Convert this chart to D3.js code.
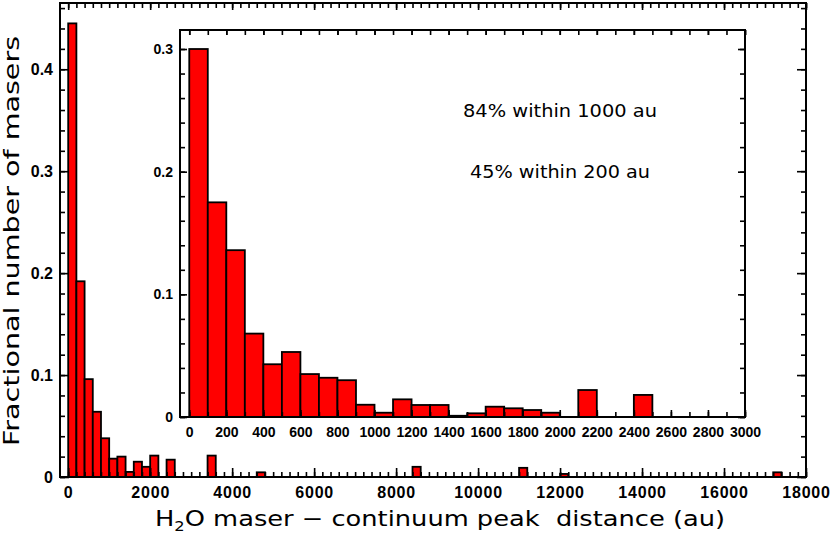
<!DOCTYPE html>
<html><head><meta charset="utf-8">
<script src="https://cdn.jsdelivr.net/npm/d3@7"></script>
<style>body{margin:0;background:#fff}svg{display:block}</style>
</head><body>
<svg id="c" width="830" height="536"></svg>
<script>
// ---- data ----
const mainBinWidth = 200;
const mainBinStart = [0,200,400,600,800,1000,1200,1400,1600,1800,2000,2400,3400,4600,8400,11000,12000,17200];
const mainFraction = [0.445,0.192,0.096,0.064,0.038,0.018,0.020,0.005,0.015,0.010,0.021,0.017,0.021,0.0046,0.010,0.009,0.003,0.0046];
const insetBinWidth = 100;
const insetBinStart = [0,100,200,300,400,500,600,700,800,900,1000,1100,1200,1300,1400,1500,1600,1700,1800,1900,2100,2400];
const insetFraction = [0.300,0.175,0.136,0.068,0.043,0.053,0.035,0.032,0.030,0.010,0.0035,0.0144,0.0098,0.0098,0.001,0.003,0.0084,0.0071,0.0057,0.0035,0.022,0.018];
const mainXTicks = [0,2000,4000,6000,8000,10000,12000,14000,16000,18000];
const mainYTicks = [0,0.1,0.2,0.3,0.4];
const insetXTicks = [0,200,400,600,800,1000,1200,1400,1600,1800,2000,2200,2400,2600,2800,3000];
const insetYTicks = [0,0.1,0.2,0.3];
const annotations = ["84% within 1000 au","45% within 200 au"];
const yTitle = "Fractional number of masers";

const svg = d3.select("#c");
const fmtY = d => d === 0 ? "0" : d3.format(".1f")(d);

// ---- main scales ----
const xM = d3.scaleLinear([-200, 18000], [60, 806]);
const yM = d3.scaleLinear([0, 0.465], [477, 3]);

function drawAxes(g, x, y, cfg) {
  const [x0, x1] = x.range(), [y0, y1] = y.range();
  const w = x1 - x0, h = y0 - y1;
  // minor
  g.append("g").attr("transform", `translate(0,${y0})`)
    .call(d3.axisBottom(x).tickValues(cfg.xMinor).tickSizeInner(-cfg.minLen).tickSizeOuter(0).tickFormat(""));
  g.append("g").attr("transform", `translate(0,${y1})`)
    .call(d3.axisTop(x).tickValues(cfg.xMinor).tickSizeInner(-cfg.minLen).tickSizeOuter(0).tickFormat(""));
  g.append("g").attr("transform", `translate(${x0},0)`)
    .call(d3.axisLeft(y).tickValues(cfg.yMinor).tickSizeInner(-cfg.minLen).tickSizeOuter(0).tickFormat(""));
  g.append("g").attr("transform", `translate(${x1},0)`)
    .call(d3.axisRight(y).tickValues(cfg.yMinor).tickSizeInner(-cfg.minLen).tickSizeOuter(0).tickFormat(""));
  // major
  const bx = g.append("g").attr("class","lab").attr("transform", `translate(0,${y0})`)
    .call(d3.axisBottom(x).tickValues(cfg.xMajor).tickSizeInner(-cfg.majLen).tickSizeOuter(0).tickPadding(cfg.xPad).tickFormat(d => d));
  g.append("g").attr("transform", `translate(0,${y1})`)
    .call(d3.axisTop(x).tickValues(cfg.xMajor).tickSizeInner(-cfg.majLenTop).tickSizeOuter(0).tickFormat(""));
  g.append("g").attr("class","lab").attr("transform", `translate(${x0},0)`)
    .call(d3.axisLeft(y).tickValues(cfg.yMajor).tickSizeInner(-cfg.majLen).tickSizeOuter(0).tickPadding(cfg.yPad).tickFormat(fmtY));
  g.append("g").attr("transform", `translate(${x1},0)`)
    .call(d3.axisRight(y).tickValues(cfg.yMajor).tickSizeInner(-cfg.majLen).tickSizeOuter(0).tickFormat(""));
  g.selectAll(".domain").remove();
  g.selectAll(".tick line").attr("stroke", "#000").attr("stroke-width", 1.6);
  g.selectAll(".tick text").attr("fill", "#000")
    .style("font-family", "'Liberation Sans', Arial, sans-serif").style("font-weight", "bold")
    .style("font-size", cfg.fs + "px");
  bx.selectAll(".tick text").attr("letter-spacing", cfg.ls);
  // frame
  g.append("rect").attr("x", x0).attr("y", y1).attr("width", w).attr("height", h)
    .attr("fill", "none").attr("stroke", "#000").attr("stroke-width", 2);
}

const gm = svg.append("g");
gm.selectAll("rect.bar").data(mainBinStart).join("rect").attr("class","bar")
  .attr("x", d => xM(d)).attr("width", d => xM(d + mainBinWidth) - xM(d))
  .attr("y", (d,i) => yM(mainFraction[i])).attr("height", (d,i) => yM(0) - yM(mainFraction[i]))
  .attr("fill", "#ff0000").attr("stroke", "#000").attr("stroke-width", 1.8);

drawAxes(gm, xM, yM, {
  xMajor: mainXTicks, xMinor: d3.range(0, 18001, 200),
  yMajor: mainYTicks, yMinor: d3.range(0, 0.461, 0.02),
  majLen: 9, majLenTop: 7, minLen: 5, fs: 16, xPad: 10, yPad: 7, ls: 0.8
});

// ---- inset ----
const xI = d3.scaleLinear([-50, 3000], [180, 745]);
const yI = d3.scaleLinear([0, 0.3155], [417, 30]);
const gi = svg.append("g");
gi.append("rect").attr("x", 180).attr("y", 30).attr("width", 565).attr("height", 387).attr("fill", "#fff");
gi.selectAll("rect.bar").data(insetBinStart).join("rect").attr("class","bar")
  .attr("x", d => xI(d)).attr("width", d => xI(d + insetBinWidth) - xI(d))
  .attr("y", (d,i) => yI(insetFraction[i])).attr("height", (d,i) => yI(0) - yI(insetFraction[i]))
  .attr("fill", "#ff0000").attr("stroke", "#000").attr("stroke-width", 1.8);
drawAxes(gi, xI, yI, {
  xMajor: insetXTicks, xMinor: d3.range(0, 3001, 100),
  yMajor: insetYTicks, yMinor: d3.range(0, 0.311, 0.02),
  majLen: 7, majLenTop: 5, minLen: 5, fs: 14, xPad: 10, yPad: 7, ls: 0
});

// annotations
const annFont = "'DejaVu Sans', Verdana, sans-serif";
svg.append("text").attr("x", 560).attr("y", 117).attr("text-anchor", "middle")
  .style("font-family", annFont).style("font-size", "17px").attr("textLength", 194).attr("lengthAdjust","spacingAndGlyphs")
  .text(annotations[0]);
svg.append("text").attr("x", 560).attr("y", 178).attr("text-anchor", "middle")
  .style("font-family", annFont).style("font-size", "17px").attr("textLength", 180).attr("lengthAdjust","spacingAndGlyphs")
  .text(annotations[1]);

// axis titles
const xt = svg.append("text").attr("x", 440).attr("y", 526).attr("text-anchor", "middle")
  .attr("xml:space","preserve")
  .style("font-family", annFont).style("font-size", "22px")
  .attr("textLength", 570).attr("lengthAdjust","spacingAndGlyphs");
xt.append("tspan").text("H");
xt.append("tspan").attr("dy", 5).style("font-size", "14px").text("2");
xt.append("tspan").attr("dy", -5).text("O maser \u2212 continuum peak  distance (au)");

svg.append("text").attr("transform", "translate(19,241) rotate(-90)").attr("text-anchor", "middle")
  .style("font-family", annFont).style("font-size", "22px")
  .attr("textLength", 410).attr("lengthAdjust","spacingAndGlyphs")
  .text(yTitle);
</script>
</body></html>
